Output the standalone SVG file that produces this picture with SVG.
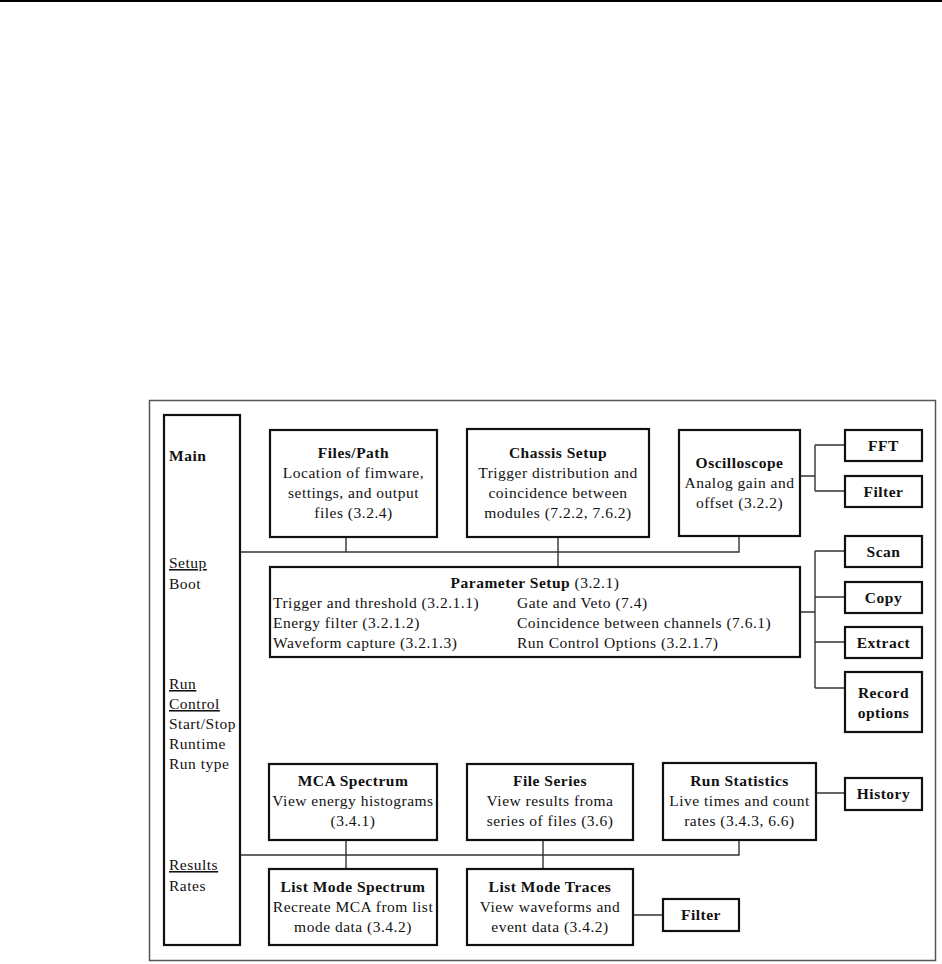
<svg xmlns="http://www.w3.org/2000/svg" width="942" height="964" viewBox="0 0 942 964">
<style>
text{font-family:"Liberation Serif","Tinos","DejaVu Serif",serif;font-size:15.5px;letter-spacing:0.5px;fill:#111}
.b{font-weight:bold}
.c{text-anchor:middle}
.box{fill:#fff;stroke:#111;stroke-width:2.2}
.ln{fill:none;stroke:#333;stroke-width:1.4}
.u{text-decoration:underline}
</style>
<rect width="942" height="964" fill="#fff"/>
<line x1="0" y1="1" x2="942" y2="1" stroke="#000" stroke-width="2"/>
<rect id="frame" x="149.5" y="400.5" width="786" height="560" fill="none" stroke="#555" stroke-width="1.5"/>
<g id="connectors" class="ln">
<path d="M240 552H739V537M346 537V552M558 537V567"/>
<path d="M800 476H815M815 445V491M815 445H845M815 491H845"/>
<path d="M800 612H815M815 551V688M815 551H845M815 597H845M815 642H845M815 688H845"/>
<path d="M240 855H739V840M346 840V869M543 840V869"/>
<path d="M633 915H663M816 793H845"/>
</g>
<g id="main"><rect class="box" x="164" y="415" width="76" height="530"/>
<text class="b" x="169" y="461">Main</text>
<text class="u" x="169" y="568">Setup</text>
<text x="169" y="589">Boot</text>
<text class="u" x="169" y="689">Run</text>
<text class="u" x="169" y="709">Control</text>
<text x="169" y="729">Start/Stop</text>
<text x="169" y="749">Runtime</text>
<text x="169" y="769">Run type</text>
<text class="u" x="169" y="870">Results</text>
<text x="169" y="891">Rates</text></g>
<g id="files"><rect class="box" x="270" y="430" width="167" height="107"/>
<text class="c" x="353.5" y="458"><tspan class="b">Files/Path</tspan><tspan x="353.5" dy="20">Location of fimware,</tspan><tspan x="353.5" dy="20">settings, and output</tspan><tspan x="353.5" dy="20">files (3.2.4)</tspan></text></g>
<g id="chassis"><rect class="box" x="467" y="429" width="182" height="108"/>
<text class="c" x="558" y="458"><tspan class="b">Chassis Setup</tspan><tspan x="558" dy="20">Trigger distribution and</tspan><tspan x="558" dy="20">coincidence between</tspan><tspan x="558" dy="20">modules (7.2.2, 7.6.2)</tspan></text></g>
<g id="osc"><rect class="box" x="679" y="430" width="121" height="106"/>
<text class="c" x="739.5" y="468"><tspan class="b">Oscilloscope</tspan><tspan x="739.5" dy="20">Analog gain and</tspan><tspan x="739.5" dy="20">offset (3.2.2)</tspan></text></g>
<g id="fft"><rect class="box" x="845" y="430" width="77" height="31"/><text class="b c" x="883.5" y="451">FFT</text></g>
<g id="filter1"><rect class="box" x="845" y="476" width="77" height="31"/><text class="b c" x="883.5" y="497">Filter</text></g>
<g id="param"><rect class="box" x="270" y="567" width="530" height="90"/>
<text class="c" x="535" y="588"><tspan class="b">Parameter Setup</tspan> (3.2.1)</text>
<text x="273" y="608">Trigger and threshold (3.2.1.1)</text>
<text x="273" y="628">Energy filter (3.2.1.2)</text>
<text x="273" y="648">Waveform capture (3.2.1.3)</text>
<text x="517" y="608">Gate and Veto (7.4)</text>
<text x="517" y="628">Coincidence between channels (7.6.1)</text>
<text x="517" y="648">Run Control Options (3.2.1.7)</text></g>
<g id="scan"><rect class="box" x="845" y="536" width="77" height="31"/><text class="b c" x="883.5" y="557">Scan</text></g>
<g id="copy"><rect class="box" x="845" y="582" width="77" height="31"/><text class="b c" x="883.5" y="603">Copy</text></g>
<g id="extract"><rect class="box" x="845" y="627" width="77" height="31"/><text class="b c" x="883.5" y="648">Extract</text></g>
<g id="record"><rect class="box" x="845" y="672" width="77" height="60"/><text class="b c" x="883.5" y="698"><tspan>Record</tspan><tspan x="883.5" dy="20">options</tspan></text></g>
<g id="mca"><rect class="box" x="269" y="764" width="168" height="76"/>
<text class="c" x="353" y="786"><tspan class="b">MCA Spectrum</tspan><tspan x="353" dy="20">View energy histograms</tspan><tspan x="353" dy="20">(3.4.1)</tspan></text></g>
<g id="fileseries"><rect class="box" x="467" y="764" width="166" height="76"/>
<text class="c" x="550" y="786"><tspan class="b">File Series</tspan><tspan x="550" dy="20">View results froma</tspan><tspan x="550" dy="20">series of files (3.6)</tspan></text></g>
<g id="runstats"><rect class="box" x="663" y="763" width="153" height="77"/>
<text class="c" x="739.5" y="786"><tspan class="b">Run Statistics</tspan><tspan x="739.5" dy="20">Live times and count</tspan><tspan x="739.5" dy="20">rates (3.4.3, 6.6)</tspan></text></g>
<g id="history"><rect class="box" x="845" y="778" width="77" height="32"/><text class="b c" x="883.5" y="799">History</text></g>
<g id="lms"><rect class="box" x="269" y="869" width="168" height="76"/>
<text class="c" x="353" y="892"><tspan class="b">List Mode Spectrum</tspan><tspan x="353" dy="20">Recreate MCA from list</tspan><tspan x="353" dy="20">mode data (3.4.2)</tspan></text></g>
<g id="lmt"><rect class="box" x="467" y="869" width="166" height="76"/>
<text class="c" x="550" y="892"><tspan class="b">List Mode Traces</tspan><tspan x="550" dy="20">View waveforms and</tspan><tspan x="550" dy="20">event data (3.4.2)</tspan></text></g>
<g id="filter2"><rect class="box" x="663" y="899" width="76" height="32"/><text class="b c" x="701" y="920">Filter</text></g>
</svg>
